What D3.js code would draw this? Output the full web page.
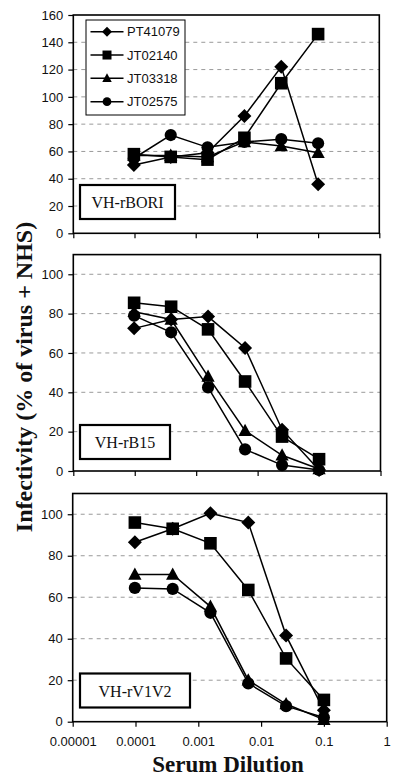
<!DOCTYPE html>
<html><head><meta charset="utf-8">
<script src="https://cdn.jsdelivr.net/npm/d3@7"></script>
<style>body{margin:0;background:#fff}svg{display:block}</style>
</head><body>
<svg id="c" width="400" height="783"></svg>
<script>
const dilutions = [0.0000977, 0.000391, 0.00156, 0.00625, 0.025, 0.1];
const seriesNames = ["PT41079", "JT02140", "JT03318", "JT02575"];
const markerTypes = ["diamond", "square", "triangle", "circle"];
const xTickValues = [0.00001, 0.0001, 0.001, 0.01, 0.1, 1];
const xTickLabels = ["0.00001", "0.0001", "0.001", "0.01", "0.1", "1"];
const panelNames = ["VH-rBORI", "VH-rB15", "VH-rV1V2"];

// values per panel, per series
const rBORI_PT41079 = [50, 56, 59, 86, 122, 36];
const rBORI_JT02140 = [58, 56, 54, 70, 110, 146];
const rBORI_JT03318 = [57, 57, 56, 67, 64, 59];
const rBORI_JT02575 = [55, 72, 63, 67, 69, 66];

const rB15_PT41079 = [72.5, 77, 78.5, 62.5, 21, 0.5];
const rB15_JT02140 = [85.5, 83.5, 72, 45.5, 17.5, 6];
const rB15_JT03318 = [81, 77, 48, 20.5, 8, 1];
const rB15_JT02575 = [79, 70.5, 42.5, 11, 3, 0.5];

const rV1V2_PT41079 = [86.5, 93, 100.5, 96, 41.5, 5.5];
const rV1V2_JT02140 = [96, 93, 86, 63.5, 30.5, 10.5];
const rV1V2_JT03318 = [71, 71, 55.5, 20, 8.5, 1];
const rV1V2_JT02575 = [64.5, 64, 52.5, 18.5, 7.5, 2];

const yTicksTop = [0, 20, 40, 60, 80, 100, 120, 140, 160];
const yTicksLow = [0, 20, 40, 60, 80, 100];

const panels = [
  {name: panelNames[0], data: [rBORI_PT41079, rBORI_JT02140, rBORI_JT03318, rBORI_JT02575],
   yMax: 160, ticks: yTicksTop, x0: 73.3, x1: 379.3, y0: 15, y1: 233.3,
   box: [80, 185, 95, 34], legend: true},
  {name: panelNames[1], data: [rB15_PT41079, rB15_JT02140, rB15_JT03318, rB15_JT02575],
   yMax: 110, ticks: yTicksLow, x0: 73.3, x1: 380.5, y0: 254.6, y1: 471,
   box: [80, 425, 90, 34], legend: false},
  {name: panelNames[2], data: [rV1V2_PT41079, rV1V2_JT02140, rV1V2_JT03318, rV1V2_JT02575],
   yMax: 110, ticks: yTicksLow, x0: 72.7, x1: 386.7, y0: 493.5, y1: 721.7,
   box: [80, 673.5, 110, 34], legend: false, xLabels: true}
];

const svg = d3.select("#c");

function markerPath(type, s) {
  const p = d3.path();
  if (type === "diamond") {
    p.moveTo(0, -s); p.lineTo(s, 0); p.lineTo(0, s); p.lineTo(-s, 0); p.closePath();
  } else if (type === "square") {
    const h = s * 0.9;
    p.rect(-h, -h, 2 * h, 2 * h);
  } else if (type === "triangle") {
    const h = s * 1.0;
    p.moveTo(0, -h); p.lineTo(h * 0.95, h * 0.75); p.lineTo(-h * 0.95, h * 0.75); p.closePath();
  } else {
    p.arc(0, 0, s * 0.87, 0, 2 * Math.PI);
  }
  return p.toString();
}

panels.forEach(pn => {
  const x = d3.scaleLog().domain([0.00001, 1]).range([pn.x0, pn.x1]);
  const y = d3.scaleLinear().domain([0, pn.yMax]).range([pn.y1, pn.y0]);
  const g = svg.append("g");

  // gridlines
  g.selectAll(".grid").data(pn.ticks.filter(t => t > 0 && t < pn.yMax)).join("line")
    .attr("x1", pn.x0).attr("x2", pn.x1)
    .attr("y1", d => y(d)).attr("y2", d => y(d))
    .attr("stroke", "#9a9a9a").attr("stroke-width", 1).attr("stroke-dasharray", "4,4");

  // y axis
  const ya = g.append("g").attr("transform", `translate(${pn.x0},0)`)
    .call(d3.axisLeft(y).tickValues(pn.ticks).tickSize(5).tickPadding(5).tickSizeOuter(0));
  ya.select(".domain").remove();
  ya.selectAll("text").attr("font-family", "Liberation Sans, Arial, sans-serif").attr("font-size", 13).attr("fill", "#111");
  ya.selectAll("line").attr("stroke", "#000").attr("stroke-width", 1.2);

  // x axis ticks
  const xa = g.append("g").attr("transform", `translate(0,${pn.y1})`)
    .call(d3.axisBottom(x).tickValues(xTickValues).tickSize(5).tickSizeOuter(0)
      .tickFormat((d, i) => pn.xLabels ? xTickLabels[i] : ""));
  xa.select(".domain").remove();
  xa.selectAll("line").attr("stroke", "#000").attr("stroke-width", 1.2);
  xa.selectAll("text").attr("font-family", "Liberation Sans, Arial, sans-serif").attr("font-size", 13)
    .attr("fill", "#111").attr("dy", "1.25em");

  // frame
  g.append("rect").attr("x", pn.x0).attr("y", pn.y0)
    .attr("width", pn.x1 - pn.x0).attr("height", pn.y1 - pn.y0)
    .attr("fill", "none").attr("stroke", "#000").attr("stroke-width", 1.6);

  // series
  pn.data.forEach((vals, si) => {
    const pts = vals.map((v, i) => [dilutions[i], v]);
    g.append("path").datum(pts)
      .attr("d", d3.line().x(d => x(d[0])).y(d => y(d[1])))
      .attr("fill", "none").attr("stroke", "#000").attr("stroke-width", 1.5);
    g.selectAll(null).data(pts).join("path")
      .attr("transform", d => `translate(${x(d[0])},${y(d[1])})`)
      .attr("d", markerPath(markerTypes[si], 7))
      .attr("fill", "#000");
  });

  // panel label box
  const [bx, by, bw, bh] = pn.box;
  g.append("rect").attr("x", bx).attr("y", by).attr("width", bw).attr("height", bh)
    .attr("fill", "#fff").attr("stroke", "#000").attr("stroke-width", 2.2);
  g.append("text").attr("x", bx + bw / 2).attr("y", by + bh / 2 + 6)
    .attr("text-anchor", "middle").attr("font-family", "Liberation Serif, Times New Roman, serif")
    .attr("font-size", 16).attr("fill", "#111").text(pn.name);

  // legend
  if (pn.legend) {
    const lg = g.append("g");
    lg.append("rect").attr("x", 86).attr("y", 20).attr("width", 99).attr("height", 95)
      .attr("fill", "#fff").attr("stroke", "#000").attr("stroke-width", 1);
    const ly = d3.scalePoint().domain(seriesNames).range([31.7, 101.7]);
    seriesNames.forEach((nm, si) => {
      lg.append("line").attr("x1", 90.5).attr("x2", 123.5).attr("y1", ly(nm)).attr("y2", ly(nm))
        .attr("stroke", "#000").attr("stroke-width", 1.5);
      lg.append("path").attr("transform", `translate(107,${ly(nm)})`)
        .attr("d", markerPath(markerTypes[si], 5)).attr("fill", "#000");
      lg.append("text").attr("x", 127).attr("y", ly(nm)).attr("dy", "0.36em")
        .attr("font-family", "Liberation Sans, Arial, sans-serif").attr("font-size", 13)
        .attr("fill", "#111").text(nm);
    });
  }
});

// axis titles
svg.append("text").attr("transform", "translate(31.5,377) rotate(-90)")
  .attr("text-anchor", "middle").attr("font-family", "Liberation Serif, Times New Roman, serif")
  .attr("font-weight", "bold").attr("font-size", 24).attr("fill", "#111")
  .text("Infectivity (% of virus + NHS)");
svg.append("text").attr("x", 228).attr("y", 772)
  .attr("text-anchor", "middle").attr("font-family", "Liberation Serif, Times New Roman, serif")
  .attr("font-weight", "bold").attr("font-size", 23).attr("fill", "#111")
  .text("Serum Dilution");
</script>
</body></html>
